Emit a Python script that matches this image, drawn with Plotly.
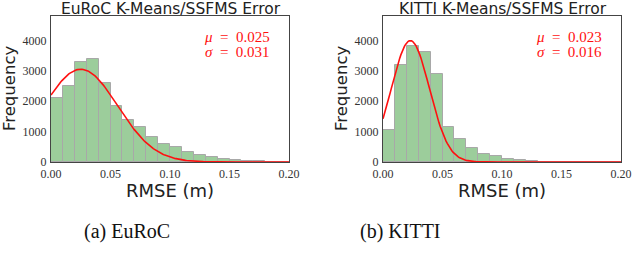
import plotly.graph_objects as go
import math

W, H = 634, 276

bin_centers = [round(i * 0.01 + 0.005, 3) for i in range(20)]

euroc_counts = [2120, 2515, 3300, 3390, 2590, 1835, 1375, 1160, 810, 580,
                480, 318, 230, 165, 100, 75, 45, 30, 15, 10]
kitti_counts = [1050, 3185, 3800, 3605, 2885, 1157, 765, 455, 251, 195,
                88, 55, 22, 15, 10, 8, 5, 4, 3, 2]

euroc_mu, euroc_sigma, euroc_peak = 0.025, 0.031, 3050
kitti_mu, kitti_sigma, kitti_peak = 0.023, 0.016, 3990

titles = ["EuRoC K-Means/SSFMS Error", "KITTI K-Means/SSFMS Error"]
captions = ["(a) EuRoC", "(b) KITTI"]
x_ticks = [0.0, 0.05, 0.10, 0.15, 0.20]
x_ticklabels = ["0.00", "0.05", "0.10", "0.15", "0.20"]
y_ticks = [0, 1000, 2000, 3000, 4000]
y_ticklabels = ["0", "1000", "2000", "3000", "4000"]

# pixel layout of the two plot boxes
boxes = [(51, 289), (383, 621)]
box_top, box_bottom = 16, 162

def px(x):
    return x / W

def py(y):
    return 1 - y / H

curve_x = [i * 0.001 for i in range(201)]

def gauss(mu, sigma, peak):
    return [peak * math.exp(-0.5 * ((x - mu) / sigma) ** 2) for x in curve_x]

fig = go.Figure()

datasets = [
    (euroc_counts, euroc_mu, euroc_sigma, euroc_peak, "x", "y"),
    (kitti_counts, kitti_mu, kitti_sigma, kitti_peak, "x2", "y2"),
]

for counts, mu, sigma, peak, xa, ya in datasets:
    fig.add_trace(go.Bar(
        x=bin_centers, y=counts, width=0.01, xaxis=xa, yaxis=ya,
        marker=dict(color="#9ccd9b", line=dict(color="#a8a8a8", width=1)),
        showlegend=False, hoverinfo="skip"))
    fig.add_trace(go.Scatter(
        x=curve_x, y=gauss(mu, sigma, peak), mode="lines", xaxis=xa, yaxis=ya,
        line=dict(color="#ff1010", width=1.6), showlegend=False, hoverinfo="skip"))

axis_common = dict(
    showgrid=False, zeroline=False, showline=True, mirror=True,
    linecolor="#444444", linewidth=1, ticks="", automargin=False,
    tickfont=dict(family="Liberation Serif", size=12, color="#333333"),
)

for i, (xa, ya) in enumerate([("xaxis", "yaxis"), ("xaxis2", "yaxis2")]):
    x0, x1 = boxes[i]
    fig.layout[xa] = dict(
        axis_common, domain=[px(x0), px(x1)], range=[0, 0.2],
        tickvals=x_ticks, ticktext=x_ticklabels,
        anchor="y" if i == 0 else "y2", ticklabelstandoff=1)
    fig.layout[ya] = dict(
        axis_common, domain=[py(box_bottom), py(box_top)], range=[0, 4800],
        tickvals=y_ticks, ticktext=y_ticklabels,
        anchor="x" if i == 0 else "x2", ticklabelstandoff=1)

annotations = []
stats = [(euroc_mu, euroc_sigma), (kitti_mu, kitti_sigma)]
for i in range(2):
    x0, x1 = boxes[i]
    cx = (x0 + x1) / 2
    annotations.append(dict(
        text=titles[i], x=px(cx + 1), y=py(9), xref="paper", yref="paper",
        showarrow=False, xanchor="center", yanchor="middle",
        font=dict(family="DejaVu Sans", size=15.5, color="#222222")))
    annotations.append(dict(
        text="Frequency", x=px(x0 - 42), y=py(89), xref="paper", yref="paper",
        showarrow=False, xanchor="center", yanchor="middle", textangle=-90,
        font=dict(family="DejaVu Sans", size=16.5, color="#222222")))
    annotations.append(dict(
        text="RMSE (m)", x=px(cx), y=py(190), xref="paper", yref="paper",
        showarrow=False, xanchor="center", yanchor="middle",
        font=dict(family="DejaVu Sans", size=18, color="#222222")))
    mu, sigma = stats[i]
    annotations.append(dict(
        text="<i>μ</i>\u2002=\u2002%.3f" % mu, x=px(x1 - 17), y=py(37),
        xref="paper", yref="paper", showarrow=False, xanchor="right", yanchor="middle",
        font=dict(family="Liberation Serif", size=15, color="#ff1010")))
    annotations.append(dict(
        text="<i>σ</i>\u2002=\u2002%.3f" % sigma, x=px(x1 - 17), y=py(52),
        xref="paper", yref="paper", showarrow=False, xanchor="right", yanchor="middle",
        font=dict(family="Liberation Serif", size=15, color="#ff1010")))

caption_x = [127, 400]
for i in range(2):
    annotations.append(dict(
        text=captions[i], x=px(caption_x[i]), y=py(231), xref="paper", yref="paper",
        showarrow=False, xanchor="center", yanchor="middle",
        font=dict(family="Liberation Serif", size=20, color="#111111")))

fig.update_layout(
    width=W, height=H, margin=dict(l=0, r=0, t=0, b=0),
    paper_bgcolor="white", plot_bgcolor="white",
    barmode="overlay", bargap=0, annotations=annotations,
)

fig.write_html("out.html", config={"displayModeBar": False},
               post_script="document.body.style.margin='0';document.body.style.overflow='hidden';")
